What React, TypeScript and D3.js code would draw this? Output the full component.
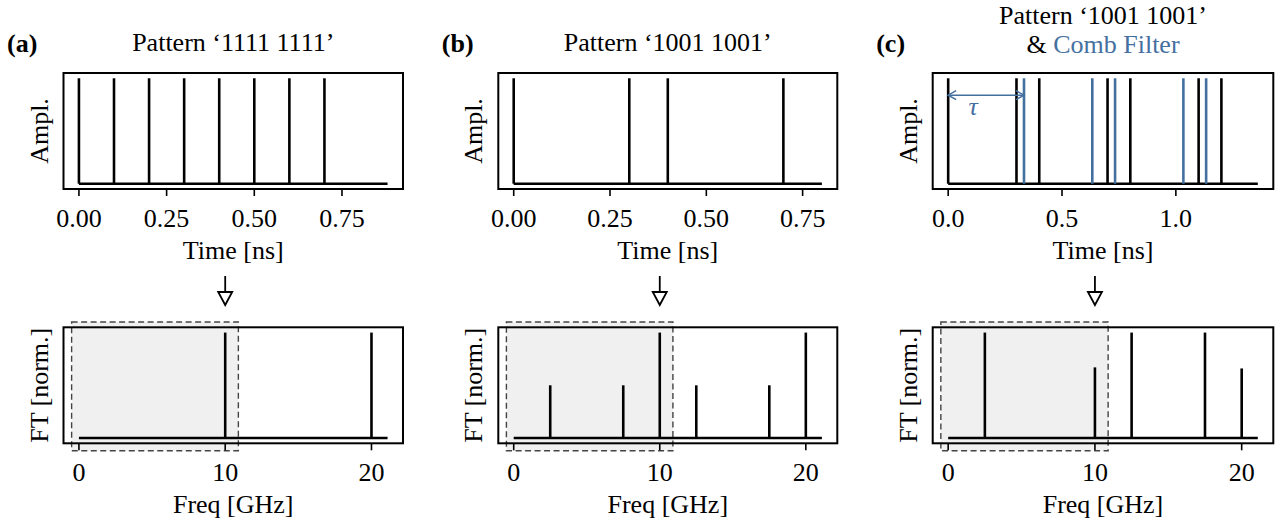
import * as d3 from 'd3'

const W = 1283
const H = 523
const BLUE = '#44709f'
const FONT = '"Liberation Serif", "Times New Roman", serif'

// pulse positions in time [ns]
const TIME_A = [0, 0.1, 0.2, 0.3, 0.4, 0.5, 0.6, 0.7]
const TIME_B = [0, 0.3, 0.4, 0.7]
const TIME_C = [0, 0.3, 0.4, 0.7, 0.8, 1.1, 1.2]
const TIME_C_COMB = [0.333, 0.633, 0.733, 1.033, 1.133]
const T_END = [0.88, 0.8, 1.36]
const TAU = 0.333

// spectral lines [GHz] and normalized heights
const FREQ_A = [10, 20]
const AMP_A = [1, 1]
const FREQ_B = [2.5, 7.5, 10, 12.5, 17.5, 20]
const AMP_B = [0.5, 0.5, 1, 0.5, 0.5, 1]
const FREQ_C = [2.5, 10, 12.5, 17.5, 20]
const AMP_C = [1, 0.67, 1, 1, 0.66]
const F_END = 21.1
const PASS_BAND = [-0.5, 10.9]

const TIME_TICKS = [[0, 0.25, 0.5, 0.75], [0, 0.25, 0.5, 0.75], [0, 0.5, 1.0]]
const TIME_FMT = ['.2f', '.2f', '.1f']
const FREQ_TICKS = [0, 10, 20]
const LABELS = ['(a)', '(b)', '(c)']

const COLS = [
  { l: 63.5, r: 403 },
  { l: 498.3, r: 837.3 },
  { l: 932.7, r: 1273.3 },
]
const TOP = { t: 73, b: 189 }
const BOT = { t: 327.3, b: 443.3 }

const padded = (max: number) => [-0.05 * max, 1.05 * max]

function Frame({ l, r, t, b, ticks, x, fmt, xlabel, ylabel }: any) {
  const cx = (l + r) / 2
  return (
    <g>
      <rect x={l} y={t} width={r - l} height={b - t} fill="none" stroke="#000" strokeWidth={2} />
      {ticks.map((v: number) => (
        <g key={v}>
          <line x1={x(v)} x2={x(v)} y1={b} y2={b + 7} stroke="#000" strokeWidth={1.6} />
          <text x={x(v)} y={b + 38} textAnchor="middle" fontSize={26}>
            {d3.format(fmt)(v)}
          </text>
        </g>
      ))}
      <text x={cx} y={b + 70} textAnchor="middle" fontSize={26}>{xlabel}</text>
      <text transform={`translate(${l - 16},${(t + b) / 2}) rotate(-90)`} textAnchor="middle" fontSize={26}>
        {ylabel}
      </text>
    </g>
  )
}

function TimePanel({ i, pulses, comb }: { i: number; pulses: number[]; comb?: number[] }) {
  const { l, r } = COLS[i]
  const x = d3.scaleLinear().domain(padded(T_END[i])).range([l, r])
  const y = d3.scaleLinear().domain([-0.05, 1.05]).range([TOP.b, TOP.t])
  return (
    <g>
      <line x1={x(0)} x2={x(T_END[i])} y1={y(0)} y2={y(0)} stroke="#000" strokeWidth={2.4} />
      {pulses.map((p) => (
        <line key={p} x1={x(p)} x2={x(p)} y1={y(0)} y2={y(1)} stroke="#000" strokeWidth={2.6} />
      ))}
      {comb && comb.map((p) => (
        <line key={'c' + p} x1={x(p)} x2={x(p)} y1={y(0)} y2={y(1)} stroke={BLUE} strokeWidth={2.6} />
      ))}
      {comb && (() => {
        const ya = y(0.84)
        const x0 = x(0)
        const x1 = x(TAU)
        return (
          <g stroke={BLUE} strokeWidth={1.5} fill="none">
            <line x1={x0} x2={x1} y1={ya} y2={ya} />
            <path d={`M${x0 + 8},${ya - 4.5}L${x0},${ya}L${x0 + 8},${ya + 4.5}`} />
            <path d={`M${x1 - 8},${ya - 4.5}L${x1},${ya}L${x1 - 8},${ya + 4.5}`} />
            <text x={x(0.11)} y={y(0.65)} textAnchor="middle" fontSize={26} fontStyle="italic" fill={BLUE} stroke="none">
              τ
            </text>
          </g>
        )
      })()}
      <Frame l={l} r={r} t={TOP.t} b={TOP.b} ticks={TIME_TICKS[i]} x={x} fmt={TIME_FMT[i]}
        xlabel="Time [ns]" ylabel="Ampl." />
    </g>
  )
}

function FreqPanel({ i, freqs, amps }: { i: number; freqs: number[]; amps: number[] }) {
  const { l, r } = COLS[i]
  const x = d3.scaleLinear().domain(padded(F_END)).range([l, r])
  const y = d3.scaleLinear().domain([-0.05, 1.05]).range([BOT.b, BOT.t])
  const ax = x(10)
  return (
    <g>
      {/* arrow from time to frequency domain */}
      <line x1={ax} x2={ax} y1={276} y2={292} stroke="#000" strokeWidth={1.8} />
      <path d={`M${ax - 7},${292}L${ax + 7},${292}L${ax},${305}Z`} fill="#fff" stroke="#000" strokeWidth={1.8} />

      <rect x={x(PASS_BAND[0])} y={y(1.1)} width={x(PASS_BAND[1]) - x(PASS_BAND[0])} height={y(-0.12) - y(1.1)}
        fill="#f0f0f0" stroke="#444" strokeWidth={1.4} strokeDasharray="6,3.5" />
      <line x1={x(0)} x2={x(F_END)} y1={y(0)} y2={y(0)} stroke="#000" strokeWidth={2.4} />
      {freqs.map((f, k) => (
        <line key={f} x1={x(f)} x2={x(f)} y1={y(0)} y2={y(amps[k])} stroke="#000" strokeWidth={2.6} />
      ))}
      <Frame l={l} r={r} t={BOT.t} b={BOT.b} ticks={FREQ_TICKS} x={x} fmt="d"
        xlabel="Freq [GHz]" ylabel="FT [norm.]" />
    </g>
  )
}

export default function App() {
  return (
    <svg width={W} height={H} style={{ position: 'absolute', left: 0, top: 0, background: '#fff' }}
      fontFamily={FONT}>
      {COLS.map((c, i) => (
        <text key={i} x={c.l - 56.5} y={52} fontSize={26} fontWeight="bold">{LABELS[i]}</text>
      ))}
      <text x={(COLS[0].l + COLS[0].r) / 2} y={51} textAnchor="middle" fontSize={26}>Pattern ‘1111 1111’</text>
      <text x={(COLS[1].l + COLS[1].r) / 2} y={51} textAnchor="middle" fontSize={26}>Pattern ‘1001 1001’</text>
      <text x={(COLS[2].l + COLS[2].r) / 2} y={23.5} textAnchor="middle" fontSize={26}>Pattern ‘1001 1001’</text>
      <text x={(COLS[2].l + COLS[2].r) / 2} y={53} textAnchor="middle" fontSize={26}>
        &amp; <tspan fill={BLUE}>Comb Filter</tspan>
      </text>

      <TimePanel i={0} pulses={TIME_A} />
      <TimePanel i={1} pulses={TIME_B} />
      <TimePanel i={2} pulses={TIME_C} comb={TIME_C_COMB} />

      <FreqPanel i={0} freqs={FREQ_A} amps={AMP_A} />
      <FreqPanel i={1} freqs={FREQ_B} amps={AMP_B} />
      <FreqPanel i={2} freqs={FREQ_C} amps={AMP_C} />
    </svg>
  )
}
